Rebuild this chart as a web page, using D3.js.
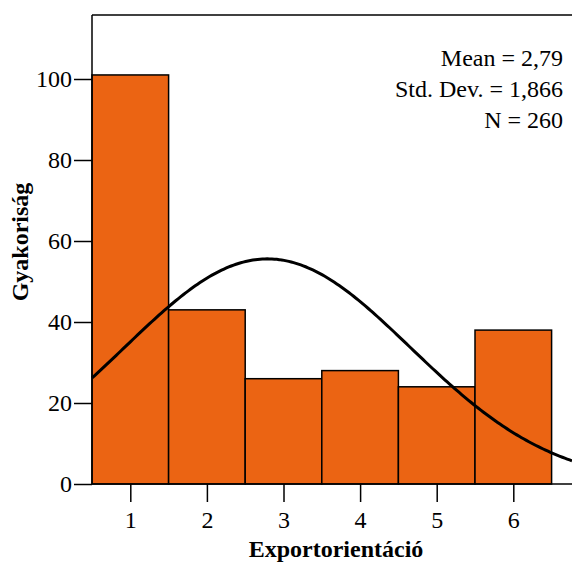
<!DOCTYPE html>
<html><head><meta charset="utf-8">
<script src="https://cdn.jsdelivr.net/npm/d3@7"></script>
<style>body{margin:0;background:#fff}svg{display:block}</style>
</head><body>
<script>
const categories = [1, 2, 3, 4, 5, 6];
const frequencies = [101, 43, 26, 28, 24, 38];
const yTicks = [0, 20, 40, 60, 80, 100];
const xTicks = [1, 2, 3, 4, 5, 6];
const statLabels = ["Mean = 2,79", "Std. Dev. = 1,866", "N = 260"];
const meanVal = 2.79, sdVal = 1.866, nVal = 260;

const FONT = "Liberation Serif, Times New Roman, Times, serif";
const W = 572, H = 562;
const svg = d3.select("body").append("svg").attr("width", W).attr("height", H)
  .attr("font-family", FONT);
const pLeft = 92, pRight = 572, pTop = 15, pBottom = 484;
const x = d3.scaleLinear().domain([0.5, 0.5 + (pRight - pLeft) / 76.6]).range([pLeft, pRight]);
const y = d3.scaleLinear().domain([0, (pBottom - pTop) / 4.05]).range([pBottom, pTop]);

// bars
svg.append("g").selectAll("rect").data(categories).join("rect")
  .attr("x", d => x(d - 0.5)).attr("width", d => x(d + 0.5) - x(d - 0.5))
  .attr("y", (d, i) => y(frequencies[i])).attr("height", (d, i) => y(0) - y(frequencies[i]))
  .attr("fill", "#EB6413").attr("stroke", "#000").attr("stroke-width", 1.5);

// normal curve
const pts = d3.range(0, 201).map(i => {
  const xv = x.domain()[0] + (x.domain()[1] - x.domain()[0]) * i / 200;
  const v = nVal / (sdVal * Math.sqrt(2 * Math.PI)) * Math.exp(-((xv - meanVal) ** 2) / (2 * sdVal * sdVal));
  return [xv, v];
});
svg.append("path").datum(pts)
  .attr("d", d3.line().x(d => x(d[0])).y(d => y(d[1])))
  .attr("fill", "none").attr("stroke", "#000").attr("stroke-width", 3);

// frame line
svg.append("line").attr("x1", pLeft).attr("x2", pRight).attr("y1", pTop).attr("y2", pTop).attr("stroke", "#000").attr("stroke-width", 1.5);

// axes
const yAxis = svg.append("g").attr("transform", `translate(${pLeft},0)`)
  .call(d3.axisLeft(y).tickValues(yTicks).tickFormat(d3.format("d")).tickSize(18).tickPadding(2));
const xAxis = svg.append("g").attr("transform", `translate(0,${pBottom})`)
  .call(d3.axisBottom(x).tickValues(xTicks).tickFormat(d3.format("d")).tickSize(18).tickPadding(9));
[yAxis, xAxis].forEach(g => {
  g.attr("font-family", FONT).attr("font-size", 24);
  g.select(".domain").attr("stroke", "#000").attr("stroke-width", 1.5);
  g.selectAll(".tick line").attr("stroke", "#000").attr("stroke-width", 1.5);
  g.selectAll(".tick text").attr("fill", "#000");
});
yAxis.select(".domain").attr("d", `M0,${pBottom}V${pTop}`);
xAxis.select(".domain").attr("d", `M${pLeft},0H${pRight}`);

// axis titles
svg.append("text").attr("x", 336).attr("y", 557).attr("text-anchor", "middle")
  .attr("font-size", 24).attr("font-weight", "bold").text("Exportorientáció");
svg.append("text").attr("transform", "translate(28,242) rotate(-90)").attr("text-anchor", "middle")
  .attr("font-size", 24).attr("font-weight", "bold").text("Gyakoriság");

// stats
svg.append("g").selectAll("text").data(statLabels).join("text")
  .attr("x", 563).attr("y", (d, i) => 66 + i * 31).attr("text-anchor", "end")
  .attr("font-size", 24).text(d => d);
</script>
</body></html>
